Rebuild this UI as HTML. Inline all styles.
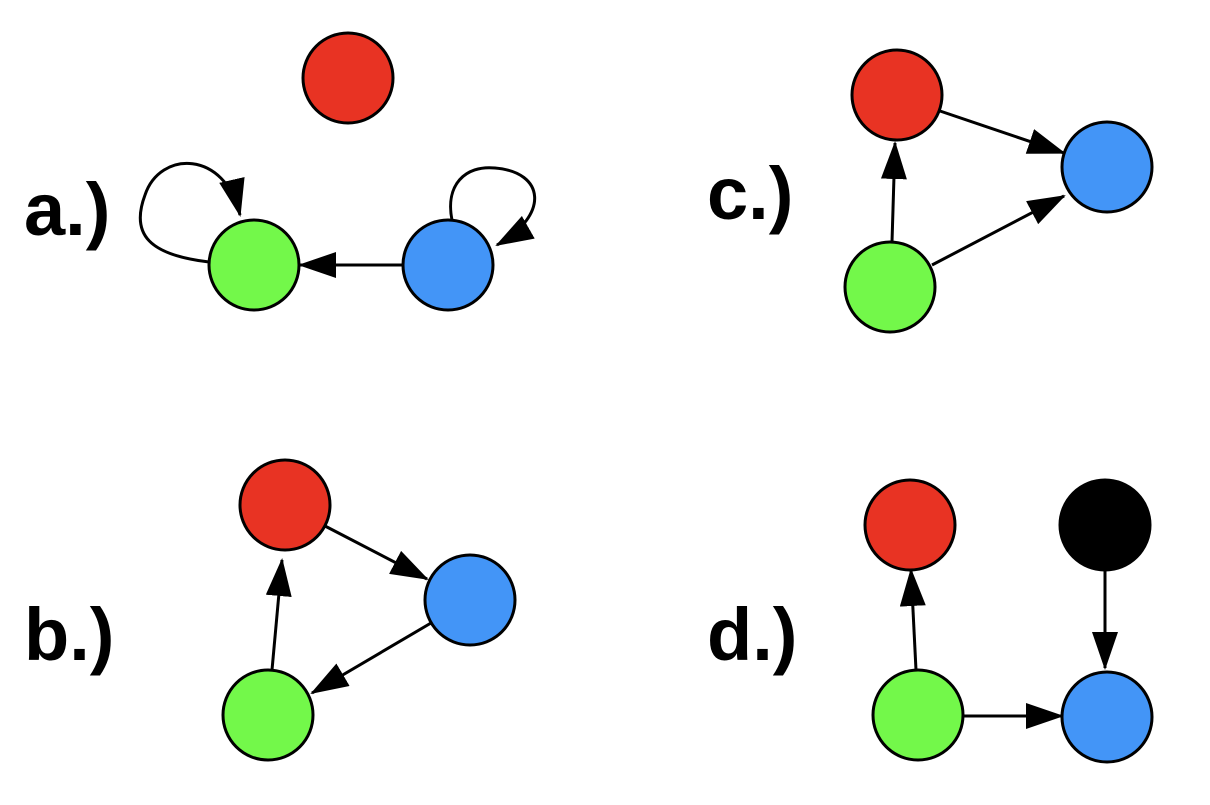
<!DOCTYPE html>
<html><head><style>
html,body{margin:0;padding:0;background:#fff;}
text{font-family:"Liberation Sans",Arial,sans-serif;font-weight:bold;font-size:74px;fill:#000;}
</style></head><body>
<svg width="1210" height="800" viewBox="0 0 1210 800" xmlns="http://www.w3.org/2000/svg">
<defs>
<marker id="ah" markerWidth="38" markerHeight="26" refX="36" refY="13" orient="auto" markerUnits="userSpaceOnUse" viewBox="0 0 38 26">
<path d="M0,0 L38,13 L0,26 Z" fill="#000"/>
</marker>
</defs>
<g stroke="#000" stroke-width="3" fill="none" marker-end="url(#ah)">
<line x1="403" y1="265" x2="300" y2="265"/>
<path d="M209,262 C150,255 130,235 145,195 C160,150 225,150 240,215"/>
<path d="M452,220 C445,185 465,165 495,168 C545,172 550,215 497,245"/>
<line x1="940" y1="111" x2="1064" y2="153"/>
<line x1="932" y1="265" x2="1064" y2="196"/>
<line x1="892" y1="242" x2="895" y2="143"/>
<line x1="325" y1="526" x2="427" y2="579"/>
<line x1="431" y1="623" x2="312" y2="693"/>
<line x1="272" y1="670" x2="282" y2="560"/>
<line x1="916" y1="670" x2="911" y2="570"/>
<line x1="1105" y1="570" x2="1105" y2="668"/>
<line x1="963" y1="716" x2="1062" y2="716"/>
</g>
<g stroke="#000" stroke-width="3">
<circle cx="348" cy="78" r="45" fill="#e83323"/>
<circle cx="254" cy="265" r="45" fill="#73f84a"/>
<circle cx="448" cy="265" r="45" fill="#4395f7"/>
<circle cx="897" cy="95" r="45" fill="#e83323"/>
<circle cx="1107" cy="167" r="45" fill="#4395f7"/>
<circle cx="890" cy="287" r="45" fill="#73f84a"/>
<circle cx="285" cy="505" r="45" fill="#e83323"/>
<circle cx="470" cy="600" r="45" fill="#4395f7"/>
<circle cx="268" cy="715" r="45" fill="#73f84a"/>
<circle cx="910" cy="525" r="45" fill="#e83323"/>
<circle cx="1105" cy="525" r="45" fill="#000"/>
<circle cx="918" cy="715" r="45" fill="#73f84a"/>
<circle cx="1107" cy="717" r="45" fill="#4395f7"/>
</g>
<text x="24" y="235">a.)</text>
<text x="24" y="660">b.)</text>
<text x="707" y="219">c.)</text>
<text x="707" y="660">d.)</text>
</svg>
</body></html>
